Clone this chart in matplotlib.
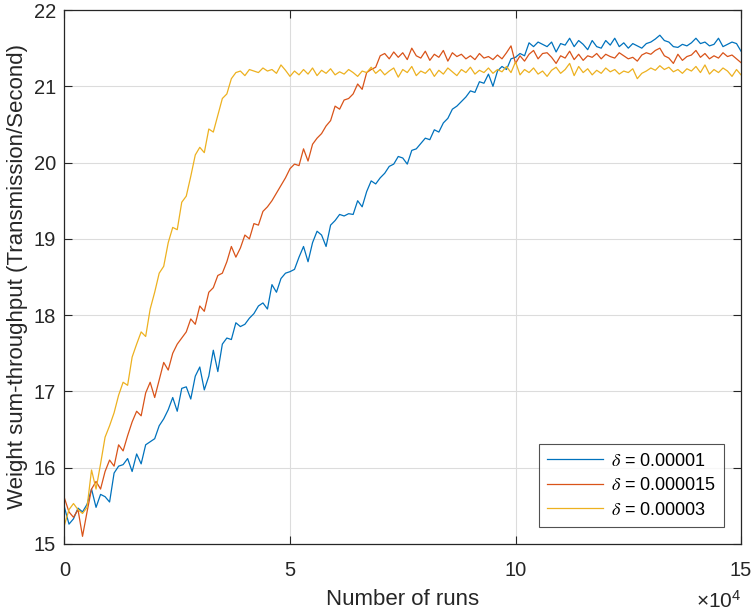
import numpy as np
import matplotlib
matplotlib.use("Agg")
import matplotlib.pyplot as plt

plt.rcParams['font.family'] = ['Liberation Sans', 'DejaVu Sans']
plt.rcParams['mathtext.fontset'] = 'stix'
plt.rcParams['mathtext.rm'] = 'Liberation Sans'
plt.rcParams['mathtext.it'] = 'Liberation Sans:italic'

# runs, sampled every 1000
runs = np.arange(0, 151) * 1000

# delta = 0.00001
blue = [15.48, 15.26, 15.33, 15.47, 15.42, 15.52, 15.72, 15.48, 15.65, 15.62,
        15.55, 15.93, 16.02, 16.04, 16.12, 15.95, 16.18, 16.05, 16.30, 16.34,
        16.38, 16.55, 16.64, 16.76, 16.92, 16.74, 17.04, 17.06, 16.90, 17.20,
        17.32, 17.02, 17.20, 17.54, 17.26, 17.62, 17.70, 17.68, 17.90, 17.85,
        17.88, 17.96, 18.02, 18.12, 18.16, 18.08, 18.40, 18.30, 18.48, 18.55,
        18.57, 18.60, 18.76, 18.90, 18.70, 18.95, 19.10, 19.05, 18.90, 19.18,
        19.24, 19.32, 19.30, 19.33, 19.32, 19.50, 19.42, 19.62, 19.76, 19.72,
        19.80, 19.86, 19.95, 19.98, 20.08, 20.06, 19.98, 20.16, 20.18, 20.25,
        20.32, 20.30, 20.43, 20.40, 20.52, 20.58, 20.70, 20.74, 20.80, 20.86,
        20.94, 20.92, 21.06, 21.04, 21.16, 21.00, 21.20, 21.26, 21.22, 21.36,
        21.38, 21.43, 21.40, 21.57, 21.52, 21.58, 21.55, 21.52, 21.58, 21.45,
        21.56, 21.54, 21.63, 21.52, 21.60, 21.55, 21.48, 21.60, 21.52, 21.50,
        21.60, 21.54, 21.63, 21.52, 21.57, 21.50, 21.56, 21.53, 21.50, 21.56,
        21.58, 21.62, 21.67, 21.60, 21.58, 21.52, 21.51, 21.55, 21.53, 21.57,
        21.63, 21.56, 21.58, 21.53, 21.55, 21.63, 21.52, 21.55, 21.58, 21.56,
        21.46]

# delta = 0.000015
red = [15.60, 15.42, 15.35, 15.45, 15.10, 15.42, 15.72, 15.82, 15.72, 15.95,
       16.10, 16.02, 16.30, 16.22, 16.42, 16.60, 16.74, 16.68, 16.98, 17.12,
       16.92, 17.15, 17.38, 17.28, 17.50, 17.62, 17.70, 17.78, 17.95, 17.88,
       18.12, 18.05, 18.30, 18.36, 18.52, 18.55, 18.70, 18.90, 18.76, 18.88,
       19.05, 19.00, 19.20, 19.18, 19.36, 19.42, 19.50, 19.60, 19.70, 19.80,
       19.92, 19.98, 19.96, 20.18, 20.02, 20.24, 20.32, 20.38, 20.48, 20.55,
       20.74, 20.70, 20.82, 20.84, 20.90, 21.03, 20.96, 21.18, 21.22, 21.25,
       21.40, 21.43, 21.36, 21.45, 21.38, 21.44, 21.35, 21.50, 21.40, 21.37,
       21.46, 21.34, 21.42, 21.38, 21.47, 21.33, 21.44, 21.39, 21.42, 21.36,
       21.40, 21.35, 21.43, 21.37, 21.39, 21.35, 21.41, 21.36, 21.44, 21.53,
       21.30, 21.40, 21.33, 21.42, 21.47, 21.36, 21.43, 21.44, 21.38, 21.30,
       21.40, 21.37, 21.46, 21.35, 21.42, 21.34, 21.40, 21.38, 21.43, 21.36,
       21.42, 21.39, 21.37, 21.44, 21.40, 21.36, 21.38, 21.33, 21.41, 21.44,
       21.42, 21.47, 21.50, 21.40, 21.37, 21.30, 21.42, 21.34, 21.39, 21.41,
       21.47, 21.38, 21.43, 21.36, 21.40, 21.37, 21.44, 21.39, 21.41, 21.36,
       21.31]

# delta = 0.00003
yellow = [15.25, 15.45, 15.53, 15.45, 15.40, 15.48, 15.97, 15.72, 16.05, 16.40,
          16.55, 16.72, 16.95, 17.12, 17.08, 17.45, 17.62, 17.78, 17.72, 18.08,
          18.30, 18.55, 18.64, 18.95, 19.15, 19.12, 19.48, 19.56, 19.82, 20.10,
          20.20, 20.13, 20.44, 20.40, 20.62, 20.84, 20.90, 21.10, 21.18, 21.20,
          21.14, 21.22, 21.20, 21.18, 21.24, 21.20, 21.22, 21.17, 21.28, 21.21,
          21.13, 21.20, 21.15, 21.22, 21.16, 21.24, 21.14, 21.21, 21.17, 21.23,
          21.15, 21.19, 21.16, 21.22, 21.18, 21.13, 21.20, 21.18, 21.25, 21.17,
          21.22, 21.15, 21.20, 21.24, 21.12, 21.22, 21.18, 21.26, 21.14, 21.20,
          21.17, 21.23, 21.13, 21.21, 21.16, 21.24, 21.19, 21.14, 21.22, 21.18,
          21.25, 21.16, 21.21, 21.18, 21.24, 21.17, 21.22, 21.19, 21.26, 21.18,
          21.32, 21.15, 21.22, 21.18, 21.24, 21.16, 21.20, 21.13, 21.21, 21.25,
          21.17, 21.22, 21.30, 21.14, 21.26, 21.18, 21.23, 21.15, 21.21, 21.17,
          21.24, 21.19, 21.22, 21.16, 21.20, 21.18, 21.23, 21.10, 21.17, 21.20,
          21.24, 21.21, 21.27, 21.22, 21.25, 21.19, 21.22, 21.17, 21.23, 21.20,
          21.26, 21.18, 21.28, 21.16, 21.22, 21.18, 21.24, 21.20, 21.13, 21.22,
          21.15]

labels = [r'$\delta$ = 0.00001', r'$\delta$ = 0.000015', r'$\delta$ = 0.00003']
colors = ['#0072BD', '#D95319', '#EDB120']
xticks = [0, 50000, 100000, 150000]
xticklabels = ['0', '5', '10', '15']

fig = plt.figure(figsize=(7.55, 6.11), dpi=100)
ax = fig.add_axes([0.0854, 0.1097, 0.8961, 0.8739])

for ys, lab, c in zip([blue, red, yellow], labels, colors):
    ax.plot(runs, ys, color=c, linewidth=0.9, label=lab)

ax.set_xlim(0, 150000)
ax.set_ylim(15, 22)
ax.set_xticks(xticks)
ax.set_xticklabels(xticklabels)
ax.set_yticks(range(15, 23))

ax.grid(True, color='#dcdcdc', linewidth=0.8)
ax.set_axisbelow(True)
ax.tick_params(direction='in', length=6, width=0.8, colors='#262626',
               labelsize=14.5, top=True, right=True)
ax.tick_params(axis='x', pad=12)
ax.tick_params(axis='y', pad=6)
for s in ax.spines.values():
    s.set_color('#262626')
    s.set_linewidth(0.9)

ax.set_xlabel('Number of runs', fontsize=16, color='#262626', labelpad=7)
ax.set_ylabel('Weight sum-throughput (Transmission/Second)', fontsize=16,
              color='#262626', labelpad=4)
ax.text(1.0, -0.1199, r'$\times10^4$', transform=ax.transAxes, ha='right',
        va='baseline', fontsize=15, color='#262626',
        math_fontfamily='custom')

leg = ax.legend(loc='lower right', fontsize=13, handlelength=3.1,
                frameon=True, fancybox=False, edgecolor='#262626',
                borderaxespad=0.95, borderpad=0.45, labelspacing=0.42,
                handletextpad=0.4)
leg.get_frame().set_linewidth(0.8)

fig.savefig('out.png', dpi=100)
